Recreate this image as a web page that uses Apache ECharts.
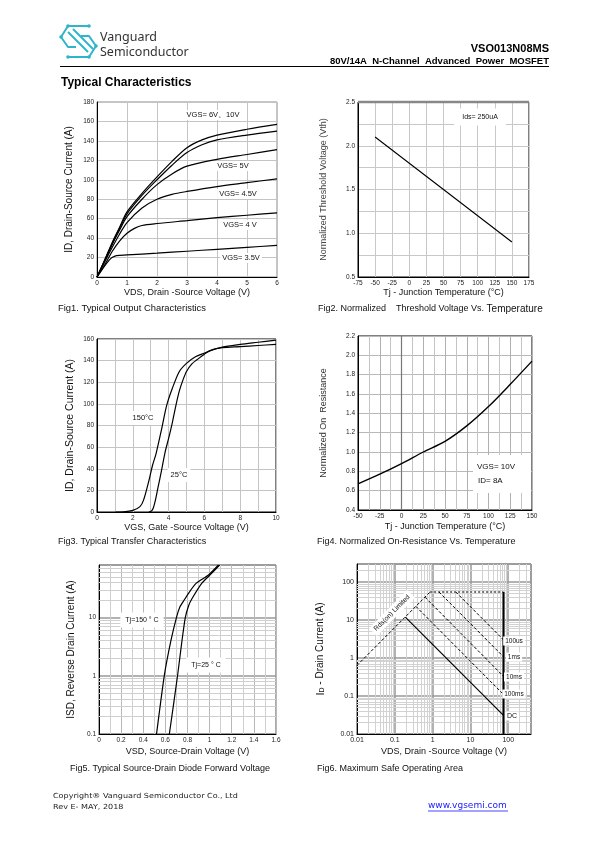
<!DOCTYPE html>
<html>
<head>
<meta charset="utf-8">
<script src="https://cdn.jsdelivr.net/npm/echarts@6.0.0/dist/echarts.min.js"></script>
<style>
html,body{margin:0;padding:0;background:#fff;}
#chart{width:595px;height:842px;}
</style>
</head>
<body>
<div id="chart"></div>
<script>
// ===== Fig1: Typical Output Characteristics  [VDS (V), ID (A)] =====
const fig1Vgs10  = [[0,0],[0.25,17],[0.5,35],[0.75,51],[1,67],[1.5,86],[2,103],[2.5,119],[3,133],[3.5,141],[4,146],[5,152],[6,157]];
const fig1Vgs6   = [[0,0],[0.25,17],[0.5,34],[0.75,50],[1,65],[1.5,84],[2,100],[2.5,115],[3,128],[3.5,136],[4,141],[5,146],[6,150]];
const fig1Vgs5   = [[0,0],[0.25,16],[0.5,33],[0.75,48],[1,62],[1.5,80],[2,95],[2.5,106],[3,114],[4,121],[5,126],[6,131]];
const fig1Vgs45  = [[0,0],[0.25,15],[0.5,30],[0.75,44],[1,56],[1.5,71],[2,80],[2.5,85],[3,88],[4,93],[5,97],[6,101]];
const fig1Vgs4   = [[0,0],[0.25,12],[0.5,26],[0.75,37],[1,45],[1.25,50],[1.5,53],[2,55],[3,58],[4,61],[5,63.5],[6,66]];
const fig1Vgs35  = [[0,0],[0.2,9],[0.4,17],[0.5,20],[0.65,22],[1,22.7],[2,24.5],[3,26.5],[4,28.5],[5,30.5],[6,32.5]];
const fig1Labels = ['VGS= 6V\u300110V','VGS= 5V','VGS= 4.5V','VGS= 4 V','VGS= 3.5V'];

// ===== Fig2: Normalized Threshold Voltage vs Tj =====
const fig2Temp = [-50, 0, 50, 100, 150];
const fig2Vth  = [2.1, 1.8, 1.5, 1.2, 0.9];

// ===== Fig3: Transfer Characteristics [VGS (V), ID (A)] =====
const fig3T150 = [[1,0],[1.5,0.2],[2,1.5],[2.4,5],[2.6,11],[2.9,29],[3.1,43],[3.3,54],[3.6,76],[3.9,99],[4.2,114],[4.6,130],[5,137.5],[5.5,143.5],[6,147],[6.5,150.4],[7,152],[8,153],[9,154],[10,155]];
const fig3T25  = [[2.9,0],[3.05,1],[3.15,4],[3.25,10],[3.4,22],[3.6,38],[3.8,55],[4,68],[4.2,82],[4.4,98],[4.6,112],[4.8,122],[5,130],[5.3,137],[5.6,141],[6,146],[6.3,149],[7,152.5],[8,155],[9,157],[10,159]];

// ===== Fig4: Normalized On-Resistance vs Tj =====
const fig4Temp = [-50,-25,0,25,50,75,100,125,150];
const fig4Ron  = [0.67,0.77,0.88,1.0,1.11,1.27,1.47,1.70,1.94];

// ===== Fig5: Source-Drain Diode Forward Voltage [VSD (V), ISD (A)] =====
const fig5T150 = [[0.52,0.1],[0.59,1],[0.65,4],[0.70,10],[0.73,15],[0.77,20],[0.82,28],[0.88,39],[0.99,54],[1.08,80]];
const fig5T25  = [[0.636,0.1],[0.71,1],[0.75,4],[0.78,10],[0.81,16],[0.84,21],[0.93,39],[1.02,58],[1.09,80]];

// ===== Fig6: Maximum Safe Operating Area [VDS (V), ID (A)] =====
const fig6Rds    = [[0.01,0.64],[0.86,55]];
const fig6Top    = [[0.86,55],[75,55]];
const fig6Us100  = [[4.1,55],[75,3.0]];
const fig6Ms1    = [[1.47,55],[75,1.08]];
const fig6Ms10   = [[0.63,40],[75,0.33]];
const fig6Ms100  = [[0.36,23],[75,0.11]];
const fig6DC     = [[0.19,12],[75,0.031]];
const fig6VdsMax = [[75,55],[75,0.01]];
const fig6Labels = ['100us','1ms','10ms','100ms','DC'];

// ---------------------------------------------------------------
const FONT = '"Liberation Sans", Arial, sans-serif';
const chart = echarts.init(document.getElementById('chart'), null, {renderer:'canvas', width:595, height:842});

const grids = [
  {left:97,  top:102, width:180, height:175, show:true, borderColor:'#8a8a8a', borderWidth:1},
  {left:358, top:102, width:171, height:175, show:true, borderColor:'#000', borderWidth:1},
  {left:97,  top:339, width:179, height:173, show:true, borderColor:'#000', borderWidth:1},
  {left:358, top:336, width:174, height:174, show:true, borderColor:'#000', borderWidth:1},
  {left:99,  top:565, width:177, height:169, show:true, borderColor:'#555', borderWidth:1},
  {left:357, top:564, width:174, height:170, show:true, borderColor:'#555', borderWidth:1}
];

function axis(o) {
  const base = {
    gridIndex:o.g, type:o.type || 'value', min:o.min, max:o.max,
    axisLine:{show:true, onZero:false, lineStyle:{color:'#000', width:1}},
    axisTick:{show:false},
    axisLabel:Object.assign({fontSize:6.5, color:'#222', margin:3, fontFamily:FONT}, o.label || {}),
    splitLine:{show:true, lineStyle:{color:o.splitColor || '#c4c4c4', width:o.splitWidth || 1}},
    name:o.name, nameLocation:'middle', nameGap:o.gap,
    nameTextStyle:Object.assign({fontSize:9, color:'#111', fontFamily:FONT}, o.nameStyle || {})
  };
  if (o.interval !== undefined) base.interval = o.interval;
  if (o.minor) {
    base.minorTick = {show:false, splitNumber:o.minor};
    base.minorSplitLine = {show:true, lineStyle:{color:o.minorColor || '#c4c4c4', width:1}};
  }
  if (o.type === 'log') base.logBase = 10;
  return base;
}
const fix1 = v => Number(v).toFixed(1);

const xAxes = [
  axis({g:0, min:0, max:6, interval:1, name:'VDS, Drain -Source Voltage (V)', gap:11}),
  axis({g:1, min:-75, max:175, interval:25, name:'Tj - Junction Temperature (\u00B0C)', gap:11, splitColor:'#c8c8c8'}),
  axis({g:2, min:0, max:10, interval:2, minor:2, name:'VGS, Gate -Source Voltage (V)', gap:10}),
  axis({g:3, min:-50, max:150, interval:25, minor:2, name:'Tj - Junction Temperature (\u00B0C)', gap:12, splitColor:'#b0b0b0', minorColor:'#c4c4c4'}),
  axis({g:4, min:0, max:1.6, interval:0.2, minor:2, name:'VSD, Source-Drain Voltage (V)', gap:13, splitColor:'#b8b8b8', minorColor:'#cfcfcf'}),
  axis({g:5, type:'log', min:0.01, max:400, name:'VDS, Drain -Source Voltage (V)', gap:13, splitColor:'#999', splitWidth:1.5, label:{showMaxLabel:false, fontSize:7}})
];
const yAxes = [
  axis({g:0, min:0, max:180, interval:20, name:'ID, Drain-Source Current (A)', gap:23, nameStyle:{fontSize:10}}),
  axis({g:1, min:0.5, max:2.5, interval:0.5, minor:2, name:'Normalized Threshold Voltage (Vth)', gap:30, splitColor:'#c8c8c8', minorColor:'#c8c8c8', label:{formatter:fix1}, nameStyle:{color:'#444'}}),
  axis({g:2, min:0, max:160, interval:20, name:'ID, Drain-Source Current (A)', gap:21, nameStyle:{fontSize:10.5}}),
  axis({g:3, min:0.4, max:2.2, interval:0.2, name:'Normalized On  Resistance', gap:30, splitColor:'#b8b8b8', label:{formatter:fix1}, nameStyle:{color:'#333'}}),
  axis({g:4, type:'log', min:0.1, max:80, name:'ISD, Reverse Drain Current (A)', gap:23, splitColor:'#999', splitWidth:1.5, label:{showMaxLabel:false}, nameStyle:{fontSize:10}}),
  axis({g:5, type:'log', min:0.01, max:300, name:'{a|I}{b|D}{c| - Drain Current (A)}', gap:31, splitColor:'#999', splitWidth:1.5, label:{showMaxLabel:false, fontSize:7},
        nameStyle:{fontSize:10, rich:{a:{fontSize:11, fontFamily:FONT, color:'#111'}, b:{fontSize:7, fontFamily:FONT, color:'#111', verticalAlign:'bottom', padding:[4,0,0,0]}, c:{fontSize:10, fontFamily:FONT, color:'#111'}}}})
];

function curve(i, data, extra) {
  return Object.assign({type:'line', xAxisIndex:i, yAxisIndex:i, data:data, symbol:'none', showSymbol:false,
    smooth:0.3, silent:true, z:5, lineStyle:{color:'#000', width:1.2}}, extra || {});
}
function straight(i, data, lineStyle) {
  return {type:'line', xAxisIndex:i, yAxisIndex:i, data:data, symbol:'none', showSymbol:false, silent:true, z:6,
    lineStyle:Object.assign({color:'#000', width:1}, lineStyle)};
}
function gridLines(i, xs, ys, color, width) {
  return {type:'line', xAxisIndex:i, yAxisIndex:i, data:[], silent:true, z:1,
    markLine:{silent:true, z:1, symbol:['none','none'], label:{show:false}, emphasis:{disabled:true}, animation:false,
      lineStyle:{color:color, width:width || 1, type:'solid'},
      data: xs.map(v => ({xAxis:v})).concat(ys.map(v => ({yAxis:v})))}};
}
function logMinors(e0, e1, maxV) {
  const r = [];
  for (let e = e0; e <= e1; e++) for (let k = 2; k <= 9; k++) {
    const v = +(k * Math.pow(10, e)).toPrecision(3);
    if (v < maxV) r.push(v);
  }
  return r;
}

const series = [
  // Fig1
  curve(0, fig1Vgs10), curve(0, fig1Vgs6), curve(0, fig1Vgs5), curve(0, fig1Vgs45), curve(0, fig1Vgs4), curve(0, fig1Vgs35),
  // Fig2
  straight(1, fig2Temp.map((t, k) => [t, fig2Vth[k]]), {width:1.1}),
  // Fig3
  curve(2, fig3T150), curve(2, fig3T25),
  // Fig4
  gridLines(3, [0], [], '#777', 1.2),
  curve(3, fig4Temp.map((t, k) => [t, fig4Ron[k]]), {lineStyle:{color:'#000', width:1.4}}),
  // Fig5
  gridLines(4, [], logMinors(-1, 1, 80), '#cfcfcf', 1),
  curve(4, fig5T150, {smooth:0.2}), curve(4, fig5T25, {smooth:0.2}),
  // Fig6
  gridLines(5, logMinors(-2, 2, 400), logMinors(-2, 2, 300), '#d2d2d2', 1),
  straight(5, fig6Rds, {type:[3,2]}),
  straight(5, fig6Top, {type:[2,2], color:'#777', width:2}),
  straight(5, fig6Us100, {type:[3,2]}),
  straight(5, fig6Ms1, {type:[3,2]}),
  straight(5, fig6Ms10, {type:[3,2]}),
  straight(5, fig6Ms100, {type:[3,2]}),
  straight(5, fig6DC, {width:1.2}),
  straight(5, fig6VdsMax, {width:2})
];

// ---------- page graphics ----------
function txt(x, y, text, o) {
  o = o || {};
  return {type:'text', x:x, y:y, z:o.z || 20, rotation:o.rot || 0, scaleX:o.sx || 1, silent:true,
    style:Object.assign({text:text, fontSize:o.size || 8, fontFamily:o.font || FONT, fontWeight:o.weight || 'normal',
      fill:o.fill || '#111', align:o.align || 'left', verticalAlign:o.va || 'middle'},
      o.bg ? {backgroundColor:'#fff', padding:o.pad || [1,2]} : {}, o.style || {})};
}
function ln(x1, y1, x2, y2, color, w) {
  return {type:'line', silent:true, z:20, shape:{x1:x1, y1:y1, x2:x2, y2:y2}, style:{stroke:color || '#000', lineWidth:w || 1}};
}
const LOGO = '#2fb4ca';
function poly(points) {
  return {type:'polyline', silent:true, z:20, shape:{points:points}, style:{stroke:LOGO, lineWidth:2, fill:null, lineJoin:'round'}};
}
function dot(x, y) {
  return {type:'circle', silent:true, z:21, shape:{cx:x, cy:y, r:1.8}, style:{fill:LOGO}};
}

const graphics = [
  // logo
  poly([[89,26],[68,26],[61,37],[68,47],[76,47]]),
  poly([[68,32],[88,52]]),
  poly([[73,29],[93,49]]),
  poly([[68,57],[89,57],[96,46],[89,36],[81,36]]),
  dot(68,26), dot(89,26), dot(61,37), dot(68,57), dot(89,57), dot(96,46),
  txt(100, 37, 'Vanguard', {size:12.5, fill:'#333', font:'"Noto Sans", sans-serif'}),
  txt(100, 52, 'Semiconductor', {size:12.5, fill:'#333', font:'"Noto Sans", sans-serif'}),
  txt(549, 49, 'VSO013N08MS', {size:11, weight:'bold', align:'right', fill:'#000'}),
  txt(549, 61, '80V/14A  N-Channel  Advanced  Power  MOSFET', {size:9.5, weight:'bold', align:'right', fill:'#000'}),
  ln(60, 66.5, 549, 66.5, '#000', 1),
  txt(61, 83, 'Typical Characteristics', {size:12, weight:'bold', fill:'#000'}),

  // captions
  txt(58, 308, 'Fig1. Typical Output Characteristics', {size:9.4}),
  txt(318, 309, '{a|Fig2. Normalized    Threshold Voltage Vs. }{b|Temperature}', {style:{rich:{a:{fontSize:9, fontFamily:FONT, fill:'#111'}, b:{fontSize:10, fontFamily:FONT, fill:'#111'}}}}),
  txt(58, 542, 'Fig3. Typical Transfer Characteristics', {size:9}),
  txt(317, 542, 'Fig4. Normalized On-Resistance Vs. Temperature', {size:9}),
  txt(70, 769, 'Fig5. Typical Source-Drain Diode Forward Voltage', {size:9}),
  txt(317, 769, 'Fig6. Maximum Safe Operating Area', {size:9}),

  // Fig1 labels
  txt(213, 115, fig1Labels[0], {size:7.5, align:'center', bg:true}),
  txt(233, 166, fig1Labels[1], {size:7.5, align:'center', bg:true}),
  txt(238, 194, fig1Labels[2], {size:7.5, align:'center', bg:true}),
  txt(240, 225, fig1Labels[3], {size:7.5, align:'center', bg:true}),
  txt(241, 258, fig1Labels[4], {size:7.5, align:'center', bg:true}),
  // Fig2 label
  txt(480, 117, 'Ids= 250uA', {size:7, align:'center', bg:true, pad:[5,8]}),
  // Fig2 top border
  ln(358, 102, 529, 102, '#888', 2.5),
  // Fig3 labels
  txt(143, 418, '150\u00B0C', {size:7.5, align:'center', bg:true, pad:[3,3]}),
  txt(179, 475, '25\u00B0C', {size:7.5, align:'center', bg:true, pad:[3,3]}),
  // Fig4 labels
  {type:'rect', silent:true, z:19, shape:{x:473, y:455, width:58, height:38}, style:{fill:'#fff'}},
  txt(477, 467, 'VGS= 10V', {size:8}),
  txt(478, 481, 'ID= 8A', {size:8}),
  // Fig5 labels
  txt(142, 620, 'Tj=150 \u00B0 C', {size:7, align:'center', bg:true, pad:[4,5]}),
  txt(206, 665, 'Tj=25 \u00B0 C', {size:7, align:'center', bg:true, pad:[4,5]}),
  // Fig6 labels
  txt(514, 641, fig6Labels[0], {size:6.5, align:'center', bg:true}),
  txt(514, 657, fig6Labels[1], {size:6.5, align:'center', bg:true}),
  txt(514, 677, fig6Labels[2], {size:6.5, align:'center', bg:true}),
  txt(514, 694, fig6Labels[3], {size:6.5, align:'center', bg:true}),
  txt(512, 716, fig6Labels[4], {size:7, align:'center', bg:true}),
  txt(392, 613, 'Rds(on) Limited', {size:6.8, align:'center', bg:true, rot:Math.PI/4, pad:[2,3]}),

  // footer
  txt(53, 796, 'Copyright\u00AE Vanguard Semiconductor Co., Ltd', {size:7, sx:1.15, font:'"DejaVu Sans", sans-serif', fill:'#222'}),
  txt(53, 807, 'Rev E- MAY, 2018', {size:7, sx:1.15, font:'"DejaVu Sans", sans-serif', fill:'#222'}),
  txt(428, 806, 'www.vgsemi.com', {size:9, font:'"DejaVu Sans", sans-serif', fill:'#1a1aff'}),
  ln(428, 811, 508, 811, '#1a1aff', 0.8)
];

chart.setOption({
  animation:false,
  backgroundColor:'#fff',
  textStyle:{fontFamily:FONT},
  grid:grids,
  xAxis:xAxes,
  yAxis:yAxes,
  series:series,
  graphic:graphics
});
</script>
</body>
</html>
